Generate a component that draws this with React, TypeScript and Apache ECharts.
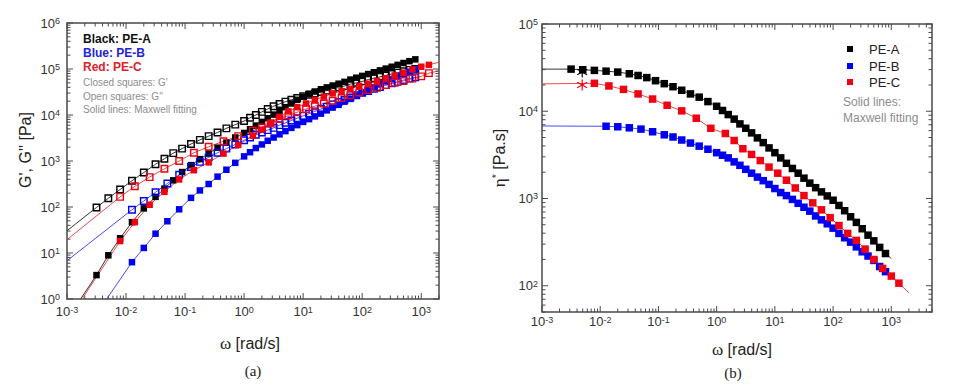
import React, { useEffect, useRef } from 'react';
import * as echarts from 'echarts';

// ---------- (a) storage & loss moduli ----------
const freqA = [0.00316, 0.00501, 0.00794, 0.0126, 0.02, 0.0316, 0.0447, 0.0631, 0.0891, 0.126, 0.178, 0.251, 0.355, 0.501, 0.708, 1, 1.26, 1.58, 2, 2.51, 3.16, 3.98, 5.01, 6.31, 7.94, 10, 12.6, 15.8, 20, 25.1, 31.6, 39.8, 50.1, 63.1, 79.4, 100, 126, 158, 200, 251, 316, 398, 501, 631, 794];
const gpA = [3.31, 8.91, 20.9, 46.8, 93.3, 166, 251, 380, 575, 813, 1100, 1450, 1950, 2510, 3240, 4070, 4900, 5890, 7080, 8510, 10200, 12300, 14800, 17800, 21400, 25100, 28800, 32400, 36300, 39800, 43700, 47900, 52500, 58900, 64600, 70800, 77600, 85100, 93300, 102000, 112000, 123000, 135000, 148000, 162000];
const gppA = [97.7, 155, 240, 372, 562, 851, 1120, 1480, 1860, 2340, 2880, 3470, 4170, 5130, 6170, 7410, 8710, 10000, 11700, 13500, 15500, 17400, 19500, 21400, 23400, 25700, 27500, 29500, 31600, 33900, 37200, 39800, 42700, 46800, 50100, 53700, 58900, 63100, 67600, 72400, 77600, 83200, 89100, 95500, 100000];
const etaA = [30400, 29900, 29400, 28800, 28100, 26900, 25700, 24300, 22400, 20700, 19100, 17400, 15800, 14500, 12900, 11400, 10200, 9160, 8130, 7160, 6380, 5650, 4950, 4370, 3800, 3350, 2920, 2530, 2210, 1950, 1710, 1500, 1330, 1190, 1070, 955, 832, 724, 617, 532, 450, 380, 327, 275, 234];

const freqB = [0.0126, 0.02, 0.0316, 0.0501, 0.0794, 0.126, 0.178, 0.251, 0.355, 0.501, 0.708, 1, 1.26, 1.58, 2, 2.51, 3.16, 3.98, 5.01, 6.31, 7.94, 10, 12.6, 15.8, 20, 25.1, 31.6, 39.8, 50.1, 63.1, 79.4, 100, 126, 158, 200, 251, 316, 398, 501, 631, 794];
const gpB = [6.31, 12.9, 26.3, 49.0, 89.1, 158, 229, 316, 457, 646, 912, 1260, 1550, 1910, 2290, 2750, 3240, 3800, 4470, 5250, 6030, 7080, 8130, 9330, 10700, 12600, 14500, 16600, 19500, 22400, 26300, 30200, 34700, 39800, 46800, 53700, 60300, 69200, 77600, 87100, 97700];
const gppB = [87.1, 135, 209, 324, 501, 741, 955, 1200, 1510, 1860, 2290, 2820, 3240, 3720, 4170, 4680, 5250, 6030, 6760, 7590, 8510, 9550, 10700, 12000, 13500, 15100, 17000, 19100, 21400, 24000, 26900, 30200, 33100, 37200, 40700, 44700, 49000, 52500, 57500, 61700, 66100];
const etaB = [6730, 6640, 6460, 6240, 5820, 5370, 5070, 4680, 4320, 3980, 3670, 3350, 3130, 2920, 2630, 2400, 2160, 1950, 1760, 1600, 1450, 1300, 1170, 1080, 977, 881, 794, 716, 631, 569, 513, 457, 398, 355, 316, 279, 245, 219, 195, 166, 145];

const freqC = [0.00794, 0.0141, 0.0251, 0.0447, 0.0794, 0.141, 0.251, 0.447, 0.794, 1.41, 2, 2.82, 3.98, 5.62, 7.94, 11.2, 15.8, 22.4, 31.6, 44.7, 63.1, 89.1, 126, 178, 251, 355, 501, 708, 1000, 1350];
const gpC = [18.2, 46.8, 112, 214, 398, 631, 933, 1450, 2240, 3550, 4790, 6610, 9120, 12000, 14800, 17800, 21400, 25100, 29500, 33100, 37200, 42700, 47900, 55000, 63100, 72400, 83200, 97700, 112000, 123000];
const gppC = [166, 282, 447, 676, 1000, 1510, 2040, 2690, 3470, 4570, 5370, 6610, 8130, 9770, 11500, 13500, 15500, 17800, 20400, 23400, 26900, 30900, 34700, 38900, 44700, 50100, 55000, 61700, 69200, 81300];
const etaC = [20900, 19500, 17800, 15800, 13800, 11700, 10100, 8320, 6380, 5560, 4620, 3720, 3200, 2720, 2290, 1950, 1620, 1320, 1080, 891, 741, 603, 490, 398, 331, 263, 200, 158, 129, 107];

// Maxwell-fit line end points beyond the measured range
const fitStartGpA = [0.0017, 1];
const fitStartGppA = [0.001, 30.5];
const fitStartEtaA = [0.001, 30400];
const fitEndEtaA = [1000, 205];
const fitStartGpB = [0.0047, 1];
const fitStartGppB = [0.001, 6.8];
const fitStartEtaB = [0.001, 6780];
const fitStartGpC = [0.0018, 1];
const fitStartGppC = [0.001, 19.5];
const fitEndGpC = [2000, 141000];
const fitEndGppC = [2000, 91000];
const fitStartEtaC = [0.001, 20600];
const fitEndEtaC = [2000, 83];

// asterisk points in (b): PE-A, PE-C
const asteriskFreq = [0.0049, 0.0049];
const asteriskEta = [28200, 20000];

// axis tick decades
const tickMultipliers = [1, 2, 3, 4, 5, 6, 7, 8, 9];
const decadesAX = [0.001, 0.01, 0.1, 1, 10, 100, 1000];
const decadesAY = [1, 10, 100, 1000, 10000, 100000, 1000000];
const decadesBX = [0.001, 0.01, 0.1, 1, 10, 100, 1000];
const decadesBY = [10, 100, 1000, 10000, 100000];

const SANS = '"Liberation Sans", Arial, Helvetica, sans-serif';
const SERIF = '"Liberation Serif", "Times New Roman", serif';
const AXIS = '#4a4a4a';
const BLACK = '#000000';
const BLUE = '#0000f0';
const RED = '#f00010';
const LBLACK = '#333333';
const LBLUE = '#4a4af0';
const LRED = '#e84a4a';

const pairs = (xs: number[], ys: number[]) => xs.map((x, i) => [x, ys[i]]);

function buildTicks(decades: number[], min: number, max: number) {
  const out: number[][] = [];
  decades.forEach((d) =>
    tickMultipliers.forEach((m) => {
      const v = d * m;
      if (v >= min * 0.9999 && v <= max * 1.0001) out.push([v, m === 1 ? 1 : 0]);
    })
  );
  return out;
}

function decadeLabel(v: number): string {
  const l = Math.log10(v);
  const n = Math.round(l);
  if (Math.abs(l - n) > 1e-6) return '';
  return `{b|10}{s|${n}}`;
}

function xTickSeries(idx: number, ticks: number[][], yMin: number) {
  return {
    type: 'custom',
    xAxisIndex: idx,
    yAxisIndex: idx,
    silent: true,
    z: 6,
    data: ticks.map((t) => [t[0], yMin, t[1]]),
    renderItem: (params: any, api: any) => {
      const cs = params.coordSys;
      const px = api.coord([api.value(0), yMin])[0];
      const len = api.value(2) ? 6 : 3.5;
      const bottom = cs.y + cs.height;
      const top = cs.y;
      return {
        type: 'group',
        children: [
          { type: 'line', shape: { x1: px, y1: bottom, x2: px, y2: bottom - len }, style: { stroke: AXIS, lineWidth: 1 } },
          { type: 'line', shape: { x1: px, y1: top, x2: px, y2: top + len }, style: { stroke: AXIS, lineWidth: 1 } },
        ],
      };
    },
  };
}

function yTickSeries(idx: number, ticks: number[][], xMin: number) {
  return {
    type: 'custom',
    xAxisIndex: idx,
    yAxisIndex: idx,
    silent: true,
    z: 6,
    data: ticks.map((t) => [xMin, t[0], t[1]]),
    renderItem: (params: any, api: any) => {
      const cs = params.coordSys;
      const py = api.coord([xMin, api.value(1)])[1];
      const len = api.value(2) ? 6 : 3.5;
      const left = cs.x;
      const right = cs.x + cs.width;
      return {
        type: 'group',
        children: [
          { type: 'line', shape: { x1: left, y1: py, x2: left + len, y2: py }, style: { stroke: AXIS, lineWidth: 1 } },
          { type: 'line', shape: { x1: right, y1: py, x2: right - len, y2: py }, style: { stroke: AXIS, lineWidth: 1 } },
        ],
      };
    },
  };
}

function fitLine(name: string, idx: number, data: number[][], color: string) {
  return {
    name,
    type: 'line',
    xAxisIndex: idx,
    yAxisIndex: idx,
    data,
    showSymbol: false,
    symbol: 'none',
    silent: true,
    z: 2,
    lineStyle: { color, width: 1, opacity: 1 },
  };
}

function marks(name: string, idx: number, data: number[][], color: string, open: boolean, size: number) {
  return {
    name,
    type: 'scatter',
    xAxisIndex: idx,
    yAxisIndex: idx,
    data,
    symbol: 'rect',
    symbolSize: size,
    silent: true,
    z: 3,
    itemStyle: open
      ? { color: 'rgba(255,255,255,0)', borderColor: color, borderWidth: 1.4, opacity: 1 }
      : { color, opacity: 1 },
  };
}

const labelRich = (fs: number) => ({
  b: { fontSize: fs, fontFamily: SANS, color: '#333' },
  s: { fontSize: fs - 4, fontFamily: SANS, color: '#333', verticalAlign: 'top' },
});

function logAxis(idx: number, min: number, max: number, margin: number, fs: number) {
  return {
    type: 'log',
    logBase: 10,
    gridIndex: idx,
    min,
    max,
    axisLine: { show: false },
    axisTick: { show: false },
    splitLine: { show: false },
    minorTick: { show: false },
    axisLabel: { formatter: decadeLabel, margin, rich: labelRich(fs), showMinLabel: true, showMaxLabel: true },
  };
}

function buildOption() {
  const txt = (x: number, y: number, text: string, font: string, fill: string, align = 'left', extra: any = {}) => ({
    type: 'text',
    x,
    y,
    silent: true,
    ...extra,
    style: { text, font, fill, align, verticalAlign: 'middle', ...(extra.style || {}) },
  });

  const graphic: any[] = [
    // (a) labels
    txt(25, 150, "G', G'' [Pa]", `16px ${SANS}`, '#222', 'center', { rotation: Math.PI / 2 }),
    txt(250, 343, '{w|ω} [rad/s]', `16px ${SANS}`, '#222', 'center', {
      style: { rich: { w: { font: `17px ${SERIF}`, fill: '#222' } } },
    }),
    txt(253, 371, '(a)', `15px ${SERIF}`, '#222', 'center'),
    txt(83, 39, 'Black: PE-A', `bold 12px ${SANS}`, '#111'),
    txt(83, 53, 'Blue: PE-B', `bold 12px ${SANS}`, '#2222dd'),
    txt(83, 67, 'Red: PE-C', `bold 12px ${SANS}`, '#e0202a'),
    txt(83, 82, "Closed squares: G'", `10px ${SANS}`, '#8c8c8c'),
    txt(83, 96, "Open squares: G''", `10px ${SANS}`, '#8c8c8c'),
    txt(83, 109, 'Solid lines: Maxwell fitting', `10px ${SANS}`, '#8c8c8c'),
    // (b) labels
    txt(499, 158, '{e|η}{s|*} [Pa.s]', `16px ${SANS}`, '#222', 'center', {
      rotation: Math.PI / 2,
      style: { rich: { e: { font: `17px ${SERIF}`, fill: '#222' }, s: { font: `11px ${SANS}`, fill: '#222', verticalAlign: 'top' } } },
    }),
    txt(742, 349, '{w|ω} [rad/s]', `16px ${SANS}`, '#222', 'center', {
      style: { rich: { w: { font: `17px ${SERIF}`, fill: '#222' } } },
    }),
    txt(733, 373, '(b)', `15px ${SERIF}`, '#222', 'center'),
    { type: 'rect', silent: true, shape: { x: 847, y: 46, width: 6, height: 6 }, style: { fill: BLACK } },
    { type: 'rect', silent: true, shape: { x: 847, y: 63, width: 6, height: 6 }, style: { fill: BLUE } },
    { type: 'rect', silent: true, shape: { x: 847, y: 79, width: 6, height: 6 }, style: { fill: RED } },
    txt(869, 49, 'PE-A', `13px ${SANS}`, '#222'),
    txt(869, 66, 'PE-B', `13px ${SANS}`, '#222'),
    txt(869, 82, 'PE-C', `13px ${SANS}`, '#222'),
    txt(843, 102, 'Solid lines:', `12px ${SANS}`, '#8c8c8c'),
    txt(843, 118, 'Maxwell fitting', `12px ${SANS}`, '#8c8c8c'),
  ];

  const series: any[] = [
    // fit lines (a)
    fitLine('PE-A G\' fit', 0, [fitStartGpA, ...pairs(freqA, gpA)], LBLACK),
    fitLine('PE-A G\'\' fit', 0, [fitStartGppA, ...pairs(freqA, gppA)], LBLACK),
    fitLine('PE-B G\' fit', 0, [fitStartGpB, ...pairs(freqB, gpB)], LBLUE),
    fitLine('PE-B G\'\' fit', 0, [fitStartGppB, ...pairs(freqB, gppB)], LBLUE),
    fitLine('PE-C G\' fit', 0, [fitStartGpC, ...pairs(freqC, gpC), fitEndGpC], LRED),
    fitLine('PE-C G\'\' fit', 0, [fitStartGppC, ...pairs(freqC, gppC), fitEndGppC], LRED),
    // fit lines (b)
    fitLine('PE-A fit', 1, [fitStartEtaA, ...pairs(freqA, etaA), fitEndEtaA], LBLACK),
    fitLine('PE-B fit', 1, [fitStartEtaB, ...pairs(freqB, etaB)], LBLUE),
    fitLine('PE-C fit', 1, [fitStartEtaC, ...pairs(freqC, etaC), fitEndEtaC], LRED),
    // markers (a)
    marks("PE-A G''", 0, pairs(freqA, gppA), BLACK, true, 6.5),
    marks("PE-A G'", 0, pairs(freqA, gpA), BLACK, false, 6.5),
    marks("PE-B G''", 0, pairs(freqB, gppB), BLUE, true, 6.5),
    marks("PE-B G'", 0, pairs(freqB, gpB), BLUE, false, 6.5),
    marks("PE-C G''", 0, pairs(freqC, gppC), RED, true, 6.5),
    marks("PE-C G'", 0, pairs(freqC, gpC), RED, false, 6.5),
    // markers (b)
    marks('PE-A', 1, pairs(freqA, etaA), BLACK, false, 7.5),
    marks('PE-B', 1, pairs(freqB, etaB), BLUE, false, 7.5),
    marks('PE-C', 1, pairs(freqC, etaC), RED, false, 7.5),
    {
      name: 'asterisk',
      type: 'scatter',
      xAxisIndex: 1,
      yAxisIndex: 1,
      silent: true,
      z: 4,
      symbol: 'path://M0,-5L0,5M-4.33,-2.5L4.33,2.5M-4.33,2.5L4.33,-2.5',
      symbolSize: [10, 11],
      data: asteriskFreq.map((f, i) => ({
        value: [f, asteriskEta[i]],
        itemStyle: { color: 'rgba(0,0,0,0)', borderColor: i === 0 ? BLACK : RED, borderWidth: 1.2, opacity: 1 },
      })),
    },
    // ticks
    xTickSeries(0, buildTicks(decadesAX, 0.001, 2000), 1),
    yTickSeries(0, buildTicks(decadesAY, 1, 1e6), 0.001),
    xTickSeries(1, buildTicks(decadesBX, 0.001, 5000), 50),
    yTickSeries(1, buildTicks(decadesBY, 50, 1e5), 0.001),
  ];

  return {
    animation: false,
    backgroundColor: '#ffffff',
    textStyle: { fontFamily: SANS },
    grid: [
      { left: 67, top: 23, width: 372, height: 276, show: true, borderColor: AXIS, borderWidth: 1.5, backgroundColor: 'rgba(0,0,0,0)', containLabel: false, outerBoundsMode: 'none' },
      { left: 542, top: 24, width: 390, height: 288, show: true, borderColor: AXIS, borderWidth: 1.5, backgroundColor: 'rgba(0,0,0,0)', containLabel: false, outerBoundsMode: 'none' },
    ],
    xAxis: [logAxis(0, 0.001, 2000, 6, 13), logAxis(1, 0.001, 5000, 3, 13)],
    yAxis: [logAxis(0, 1, 1e6, 7, 13), logAxis(1, 50, 1e5, 4, 13)],
    series,
    graphic,
  };
}

export default function App() {
  const ref = useRef<HTMLDivElement>(null);
  useEffect(() => {
    const chart = echarts.init(ref.current as HTMLDivElement, null, { renderer: 'svg' });
    chart.setOption(buildOption() as any);
    return () => chart.dispose();
  }, []);
  return (
    <div
      ref={ref}
      style={{ position: 'fixed', left: 0, top: 0, width: 954, height: 385, background: '#fff' }}
    />
  );
}
